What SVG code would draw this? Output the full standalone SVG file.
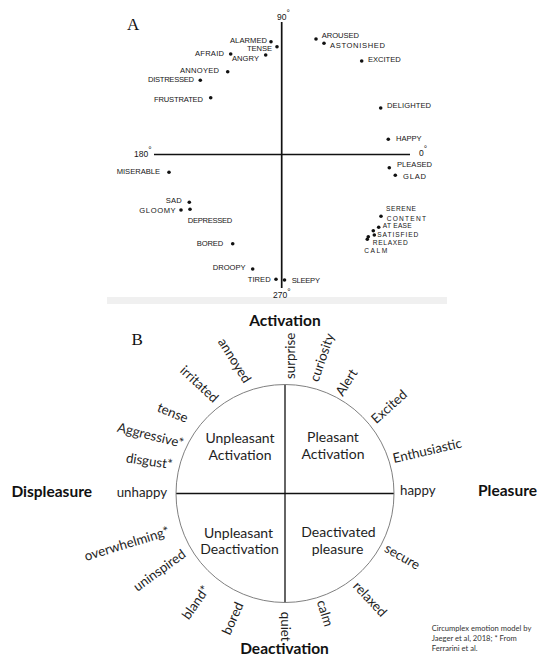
<svg xmlns="http://www.w3.org/2000/svg" width="539" height="656" viewBox="0 0 539 656">
<style>
.a{font-family:"Liberation Sans",Arial,sans-serif;font-size:7.6px;fill:#151515}
.s{font-size:6.6px}
.deg{font-family:"Liberation Sans",Arial,sans-serif;font-size:8.5px;fill:#151515}
.dot{fill:#111}
.pl{font-family:"Liberation Serif","Times New Roman",serif;font-size:17px;fill:#111}
.b{font-family:Lato,"Liberation Sans",sans-serif;font-size:13.3px;fill:#1e1e1e}
.q{font-family:Lato,"Liberation Sans",sans-serif;font-size:14px;fill:#1e1e1e;text-anchor:middle}
.t{font-family:Lato,"Liberation Sans",sans-serif;font-weight:bold;font-size:15.5px;fill:#111}
.cap{font-family:Lato,"Liberation Sans",sans-serif;font-size:7.6px;fill:#333}
.axA{stroke:#111;stroke-width:1.7;fill:none}
.axB{stroke:#111;stroke-width:1.3;fill:none}
</style>
<rect x="0" y="0" width="539" height="656" fill="#ffffff"/>
<rect x="107" y="297" width="340" height="7" fill="#f0f0f0"/>

<!-- Panel A -->
<text class="pl" x="127" y="30">A</text>
<g id="connectors">
  <line class="axA" x1="281.7" y1="22" x2="281.7" y2="288"/>
  <line class="axA" x1="154" y1="154.5" x2="410" y2="154.5"/>
  <line class="axB" x1="285" y1="384.5" x2="285" y2="602.5"/>
  <line class="axB" x1="176" y1="493.5" x2="394" y2="493.5"/>
</g>
<g id="degree-labels">
  <text class="deg" x="277" y="19.5">90<tspan dy="-3.5">°</tspan></text>
  <text class="deg" x="134" y="156.7">180<tspan dy="-3.5">°</tspan></text>
  <text class="deg" x="419" y="155.5">0<tspan dy="-3.5">°</tspan></text>
  <text class="deg" x="273" y="298">270<tspan dy="-3.5">°</tspan></text>
</g>
<g id="alarmed"><circle class="dot" cx="271" cy="41.7" r="1.8"/><text class="a" x="230" y="43" textLength="37">ALARMED</text></g>
<g id="tense-a"><circle class="dot" cx="277" cy="46.7" r="1.8"/><text class="a" x="247" y="51" textLength="25">TENSE</text></g>
<g id="afraid"><circle class="dot" cx="230.7" cy="54" r="1.8"/><text class="a" x="195" y="56" textLength="29">AFRAID</text></g>
<g id="angry"><circle class="dot" cx="265.7" cy="55" r="1.8"/><text class="a" x="232" y="61" textLength="27">ANGRY</text></g>
<g id="annoyed-a"><circle class="dot" cx="227.7" cy="71.7" r="1.8"/><text class="a" x="180" y="72.7" textLength="39">ANNOYED</text></g>
<g id="distressed"><circle class="dot" cx="200.3" cy="80.3" r="1.8"/><text class="a" x="148" y="82" textLength="46">DISTRESSED</text></g>
<g id="frustrated"><circle class="dot" cx="210.7" cy="97.7" r="1.8"/><text class="a" x="154" y="101.7" textLength="49">FRUSTRATED</text></g>
<g id="aroused"><circle class="dot" cx="316" cy="39" r="1.8"/><text class="a" x="321.7" y="37.7" textLength="37.3">AROUSED</text></g>
<g id="astonished"><circle class="dot" cx="324" cy="43.3" r="1.8"/><text class="a" x="330" y="48.3" textLength="55">ASTONISHED</text></g>
<g id="excited-a"><circle class="dot" cx="361.7" cy="61" r="1.8"/><text class="a" x="368" y="62.3" textLength="32.7">EXCITED</text></g>
<g id="delighted"><circle class="dot" cx="380.7" cy="108" r="1.8"/><text class="a" x="387" y="108.3" textLength="44">DELIGHTED</text></g>
<g id="happy-a"><circle class="dot" cx="388.3" cy="139.3" r="1.8"/><text class="a" x="396" y="140.7" textLength="25.7">HAPPY</text></g>
<g id="miserable"><circle class="dot" cx="169" cy="172.3" r="1.8"/><text class="a" x="116.7" y="174.3" textLength="43.3">MISERABLE</text></g>
<g id="sad"><circle class="dot" cx="189.3" cy="202.3" r="1.8"/><text class="a" x="165.7" y="203.3" textLength="16">SAD</text></g>
<g id="gloomy"><circle class="dot" cx="181" cy="210" r="1.8"/><text class="a" x="139.3" y="212.7" textLength="36.4">GLOOMY</text></g>
<g id="depressed"><circle class="dot" cx="190" cy="209.3" r="1.8"/><text class="a" x="187.7" y="223.3" textLength="44.6">DEPRESSED</text></g>
<g id="bored-a"><circle class="dot" cx="232.7" cy="243.7" r="1.8"/><text class="a" x="196.7" y="246" textLength="26.6">BORED</text></g>
<g id="droopy"><circle class="dot" cx="252.7" cy="269" r="1.8"/><text class="a" x="212.7" y="270" textLength="33">DROOPY</text></g>
<g id="tired"><circle class="dot" cx="276" cy="279.3" r="1.8"/><text class="a" x="247.7" y="281.7" textLength="23">TIRED</text></g>
<g id="sleepy"><circle class="dot" cx="284.5" cy="280" r="1.8"/><text class="a" x="291.7" y="283.3" textLength="28.3">SLEEPY</text></g>
<g id="pleased"><circle class="dot" cx="389.3" cy="167.7" r="1.8"/><text class="a" x="397" y="167.3" textLength="35">PLEASED</text></g>
<g id="glad"><circle class="dot" cx="395.3" cy="175.3" r="1.8"/><text class="a" x="403" y="179" textLength="23">GLAD</text></g>
<g id="serene"><text class="a s" x="386" y="211.2" textLength="30">SERENE</text></g>
<g id="content"><circle class="dot" cx="381" cy="216.3" r="1.8"/><text class="a s" x="386.7" y="220.6" textLength="39.3">CONTENT</text></g>
<g id="atease"><circle class="dot" cx="378.7" cy="227.3" r="1.8"/><text class="a s" x="382.7" y="228" textLength="29">AT EASE</text></g>
<g id="satisfied"><circle class="dot" cx="373.3" cy="230.7" r="1.8"/><circle class="dot" cx="374.3" cy="235" r="1.8"/><text class="a s" x="377.3" y="236.9" textLength="41">SATISFIED</text></g>
<g id="relaxed-a"><circle class="dot" cx="368.3" cy="236.7" r="1.8"/><circle class="dot" cx="367.3" cy="239.3" r="1.8"/><text class="a s" x="372.7" y="244.8" textLength="35">RELAXED</text></g>
<g id="calm-a"><text class="a s" x="364.3" y="252.6" textLength="23">CALM</text></g>

<!-- Panel B -->
<text class="pl" x="131.5" y="345">B</text>
<g id="circle"><circle cx="285" cy="493.5" r="109" fill="none" stroke="#808080" stroke-width="1"/></g>
<g id="quad-ua"><text class="q" x="240" y="443">Unpleasant</text><text class="q" x="240" y="460">Activation</text></g>
<g id="quad-pa"><text class="q" x="333" y="442">Pleasant</text><text class="q" x="333" y="459">Activation</text></g>
<g id="quad-ud"><text class="q" x="238.5" y="537.5">Unpleasant</text><text class="q" x="239.5" y="554">Deactivation</text></g>
<g id="quad-dp"><text class="q" x="338.5" y="537">Deactivated</text><text class="q" x="337.5" y="554">pleasure</text></g>

<g id="axis-activation"><text class="t" x="285" y="326" text-anchor="middle">Activation</text></g>
<g id="axis-deactivation"><text class="t" x="284.5" y="654" text-anchor="middle">Deactivation</text></g>
<g id="axis-displeasure"><text class="t" x="51.7" y="497" text-anchor="middle">Displeasure</text></g>
<g id="axis-pleasure"><text class="t" x="507.5" y="495.5" text-anchor="middle">Pleasure</text></g>

<g id="lbl-surprise"><text class="b" text-anchor="middle" y="4" transform="translate(290.8,355.8) rotate(-90)">surprise</text></g>
<g id="lbl-curiosity"><text class="b" text-anchor="middle" y="4" transform="translate(322.5,357.5) rotate(-71)">curiosity</text></g>
<g id="lbl-alert"><text class="b" text-anchor="middle" y="4.5" transform="translate(346.5,382.5) rotate(-58)">Alert</text></g>
<g id="lbl-excited"><text class="b" text-anchor="middle" y="4.5" transform="translate(389.2,406.7) rotate(-42)">Excited</text></g>
<g id="lbl-enthusiastic"><text class="b" text-anchor="middle" y="4.5" transform="translate(427.2,450.8) rotate(-13)">Enthusiastic</text></g>
<g id="lbl-happy"><text class="b" x="400" y="495">happy</text></g>
<g id="lbl-secure"><text class="b" text-anchor="middle" y="3.5" transform="translate(401.7,557.5) rotate(30)">secure</text></g>
<g id="lbl-relaxed"><text class="b" text-anchor="middle" y="4.5" transform="translate(370,599.2) rotate(47)">relaxed</text></g>
<g id="lbl-calm"><text class="b" text-anchor="middle" y="4.5" transform="translate(325,613.3) rotate(73)">calm</text></g>
<g id="lbl-quiet"><text class="b" text-anchor="middle" y="4" transform="translate(284.5,626.7) rotate(90)">quiet</text></g>
<g id="lbl-bored"><text class="b" text-anchor="middle" y="4.5" transform="translate(232.8,618.3) rotate(-66)">bored</text></g>
<g id="lbl-bland"><text class="b" text-anchor="middle" y="4.5" transform="translate(195.8,602.5) rotate(-55)">bland*</text></g>
<g id="lbl-uninspired"><text class="b" text-anchor="middle" y="4" transform="translate(159.7,570.8) rotate(-36)">uninspired</text></g>
<g id="lbl-overwhelming"><text class="b" text-anchor="middle" y="4" transform="translate(127,544.2) rotate(-17)">overwhelming*</text></g>
<g id="lbl-unhappy"><text class="b" x="116.7" y="497.3">unhappy</text></g>
<g id="lbl-disgust"><text class="b" text-anchor="middle" y="4" transform="translate(149.2,461.7) rotate(8.5)">disgust*</text></g>
<g id="lbl-aggressive"><text class="b" text-anchor="middle" y="4" transform="translate(150.5,435.8) rotate(14)">Aggressive*</text></g>
<g id="lbl-tense"><text class="b" text-anchor="middle" y="4" transform="translate(172.5,413.3) rotate(22)">tense</text></g>
<g id="lbl-irritated"><text class="b" text-anchor="middle" y="4.5" transform="translate(199.3,384.2) rotate(43)">irritated</text></g>
<g id="lbl-annoyed"><text class="b" text-anchor="middle" y="4" transform="translate(234.2,360.8) rotate(58)">annoyed</text></g>

<g id="caption">
  <text class="cap" x="431.7" y="630.5">Circumplex emotion model by</text>
  <text class="cap" x="431.7" y="640.5">Jaeger et al, 2018; * From</text>
  <text class="cap" x="431.7" y="650.5">Ferrarini et al.</text>
</g>
</svg>
